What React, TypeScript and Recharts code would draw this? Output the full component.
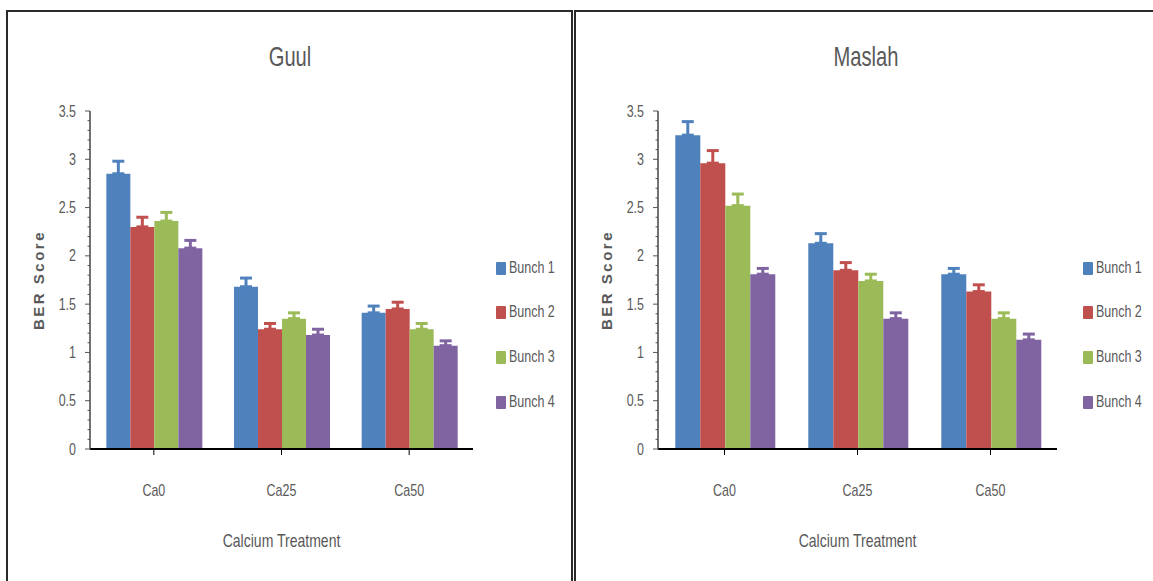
import React from 'react';
import { BarChart, Bar, XAxis, YAxis, ErrorBar } from 'recharts';

const categories = ['Ca0', 'Ca25', 'Ca50'];
const seriesNames = ['Bunch 1', 'Bunch 2', 'Bunch 3', 'Bunch 4'];
const seriesColors = ['#4F81BD', '#C0504D', '#9BBB59', '#8064A2'];

const guulBunch1 = [2.85, 1.68, 1.41];
const guulBunch2 = [2.3, 1.24, 1.45];
const guulBunch3 = [2.36, 1.35, 1.24];
const guulBunch4 = [2.08, 1.18, 1.07];
const guulErr1 = [0.13, 0.09, 0.07];
const guulErr2 = [0.1, 0.06, 0.07];
const guulErr3 = [0.09, 0.06, 0.06];
const guulErr4 = [0.08, 0.06, 0.05];

const maslahBunch1 = [3.25, 2.13, 1.81];
const maslahBunch2 = [2.96, 1.85, 1.63];
const maslahBunch3 = [2.52, 1.74, 1.35];
const maslahBunch4 = [1.81, 1.35, 1.13];
const maslahErr1 = [0.14, 0.1, 0.06];
const maslahErr2 = [0.13, 0.08, 0.07];
const maslahErr3 = [0.12, 0.07, 0.06];
const maslahErr4 = [0.06, 0.06, 0.06];

const yTickLabels = [0, 0.5, 1, 1.5, 2, 2.5, 3, 3.5];
const yAllTicks = Array.from({ length: 36 }, (_, i) => i / 10);

const FONT = '"Liberation Sans", Arial, sans-serif';
const TEXT = '#595959';
const SQUEEZE = 0.78;

function buildData(values: number[][], errors: number[][]) {
  return categories.map((c, i) => {
    const row: any = { category: c };
    values.forEach((s, k) => {
      row['b' + k] = s[i];
      row['e' + k] = [0, errors[k][i]];
    });
    return row;
  });
}

const NarrowText = ({ x, y, anchor, size, dy, children }: any) => (
  <text
    transform={`translate(${x},${y}) scale(${SQUEEZE},1)`}
    x={0}
    y={0}
    dy={dy}
    textAnchor={anchor}
    fill={TEXT}
    fontSize={size}
    fontFamily={FONT}
  >
    {children}
  </text>
);

const YTick = (props: any) => {
  const { x, y, payload } = props;
  const v = payload.value;
  const isMajor = yTickLabels.some((t) => Math.abs(t - v) < 1e-6);
  const ax = x + 14;
  return (
    <g>
      <line x1={isMajor ? ax - 5 : ax - 2.5} x2={ax} y1={y} y2={y} stroke="#555" strokeWidth={1} />
      {isMajor && (
        <NarrowText x={x} y={y} anchor="end" size={16} dy="0.35em">
          {String(Math.round(v * 10) / 10)}
        </NarrowText>
      )}
    </g>
  );
};

const XTick = (props: any) => {
  const { x, y, payload } = props;
  return (
    <NarrowText x={x} y={y} anchor="middle" size={16} dy="0.71em">
      {payload.value}
    </NarrowText>
  );
};

const XLabel = (props: any) => {
  const vb = props.viewBox || {};
  return (
    <NarrowText x={vb.x + vb.width / 2} y={vb.y + vb.height - 12} anchor="middle" size={18} dy="0">
      Calcium Treatment
    </NarrowText>
  );
};

const YLabel = (props: any) => {
  const vb = props.viewBox || {};
  const cx = vb.x + vb.width - 52;
  const cy = vb.y + vb.height / 2;
  return (
    <text
      x={cx}
      y={cy}
      transform={`rotate(-90 ${cx} ${cy})`}
      textAnchor="middle"
      dominantBaseline="central"
      fill={TEXT}
      fontSize={15}
      fontWeight="bold"
      letterSpacing={2.5}
      fontFamily={FONT}
    >
      BER Score
    </text>
  );
};

type PanelProps = {
  title: string;
  values: number[][];
  errors: number[][];
  left: number;
  svgWidth: number;
  marginRight: number;
  gap: string;
  titleX: number;
  legendX: number;
};

const Panel = ({ title, values, errors, left, svgWidth, marginRight, gap, titleX, legendX }: PanelProps) => {
  const data = buildData(values, errors);
  return (
    <>
      <div style={{ position: 'absolute', left, top: 12 }}>
        <BarChart
          width={svgWidth}
          height={570}
          data={data}
          margin={{ top: 99, right: marginRight, bottom: 23, left: 42 }}
          barCategoryGap={gap}
          barGap={0}
        >
          <XAxis
            dataKey="category"
            height={110}
            tickSize={6}
            tickMargin={30}
            axisLine={{ stroke: '#000', strokeWidth: 2 }}
            tickLine={{ stroke: '#000', strokeWidth: 1 }}
            tick={<XTick />}
            label={<XLabel />}
          />
          <YAxis
            type="number"
            domain={[0, 3.5]}
            ticks={yAllTicks}
            interval={0}
            width={40}
            tickSize={5}
            tickMargin={9}
            tickLine={false}
            axisLine={{ stroke: '#444', strokeWidth: 1.5 }}
            tick={<YTick />}
            label={<YLabel />}
          />
          {values.map((_, k) => (
            <Bar
              key={k}
              dataKey={'b' + k}
              name={seriesNames[k]}
              fill={seriesColors[k]}
              isAnimationActive={false}
            >
              <ErrorBar
                dataKey={'e' + k}
                direction="y"
                width={6}
                strokeWidth={3}
                stroke={seriesColors[k]}
                isAnimationActive={false}
              />
            </Bar>
          ))}
        </BarChart>
      </div>
      <div
        style={{
          position: 'absolute',
          left: titleX - 100,
          width: 200,
          top: 40,
          textAlign: 'center',
          fontFamily: FONT,
          fontSize: 28,
          color: TEXT,
          lineHeight: '34px',
          transform: 'scaleX(0.72)',
        }}
      >
        {title}
      </div>
      {seriesNames.map((n, k) => (
        <div
          key={n}
          style={{
            position: 'absolute',
            left: legendX,
            top: [268, 312, 357, 402][k] - 9,
            height: 18,
            display: 'flex',
            alignItems: 'center',
            fontFamily: FONT,
            fontSize: 16,
            color: TEXT,
            whiteSpace: 'nowrap',
          }}
        >
          <span
            style={{
              display: 'inline-block',
              width: 10,
              height: 13,
              background: seriesColors[k],
              marginRight: 3,
              borderRadius: 1,
            }}
          />
          <span style={{ display: 'inline-block', transform: `scaleX(${SQUEEZE})`, transformOrigin: 'left center' }}>
            {n}
          </span>
        </div>
      ))}
    </>
  );
};

export default function App() {
  return (
    <div style={{ position: 'absolute', left: 0, top: 0, width: 1153, height: 581, overflow: 'hidden', background: '#fff' }}>
      <div
        style={{
          position: 'absolute',
          left: 6,
          top: 10,
          width: 567,
          height: 600,
          border: '2px solid #2a2a2a',
          boxSizing: 'border-box',
        }}
      />
      <div
        style={{
          position: 'absolute',
          left: 574,
          top: 10,
          width: 600,
          height: 600,
          border: '2px solid #2a2a2a',
          boxSizing: 'border-box',
        }}
      />
      <Panel
        title="Guul"
        values={[guulBunch1, guulBunch2, guulBunch3, guulBunch4]}
        errors={[guulErr1, guulErr2, guulErr3, guulErr4]}
        left={8}
        svgWidth={560}
        marginRight={95}
        gap="12.8%"
        titleX={290}
        legendX={496}
      />
      <Panel
        title="Maslah"
        values={[maslahBunch1, maslahBunch2, maslahBunch3, maslahBunch4]}
        errors={[maslahErr1, maslahErr2, maslahErr3, maslahErr4]}
        left={576}
        svgWidth={577}
        marginRight={96}
        gap="13%"
        titleX={866}
        legendX={1083}
      />
    </div>
  );
}
